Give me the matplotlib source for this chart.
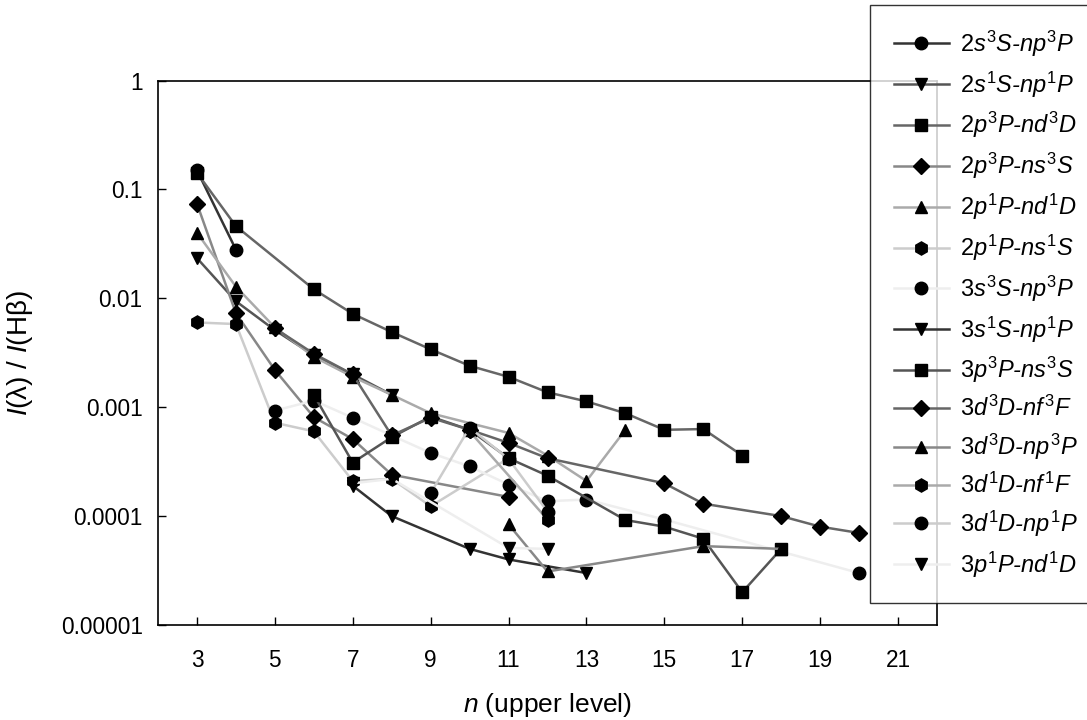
import matplotlib
matplotlib.use('Agg')
import matplotlib.pyplot as plt
from matplotlib.ticker import FixedLocator, NullLocator

plt.rcParams['font.family'] = ['Liberation Sans', 'DejaVu Sans']
plt.rcParams['mathtext.fontset'] = 'custom'
plt.rcParams['mathtext.rm'] = 'Liberation Sans'
plt.rcParams['mathtext.it'] = 'Liberation Sans:italic'
plt.rcParams['mathtext.sf'] = 'Liberation Sans'

# series labels (legend order)
labels = [r'$\mathit{2s^{3}S}$-$\mathit{np^{3}P}$',
          r'$\mathit{2s^{1}S}$-$\mathit{np^{1}P}$',
          r'$\mathit{2p^{3}P}$-$\mathit{nd^{3}D}$',
          r'$\mathit{2p^{3}P}$-$\mathit{ns^{3}S}$',
          r'$\mathit{2p^{1}P}$-$\mathit{nd^{1}D}$',
          r'$\mathit{2p^{1}P}$-$\mathit{ns^{1}S}$',
          r'$\mathit{3s^{3}S}$-$\mathit{np^{3}P}$',
          r'$\mathit{3s^{1}S}$-$\mathit{np^{1}P}$',
          r'$\mathit{3p^{3}P}$-$\mathit{ns^{3}S}$',
          r'$\mathit{3d^{3}D}$-$\mathit{nf^{3}F}$',
          r'$\mathit{3d^{3}D}$-$\mathit{np^{3}P}$',
          r'$\mathit{3d^{1}D}$-$\mathit{nf^{1}F}$',
          r'$\mathit{3d^{1}D}$-$\mathit{np^{1}P}$',
          r'$\mathit{3p^{1}P}$-$\mathit{nd^{1}D}$']

# upper level n and I(lambda)/I(Hbeta)
n_2s3S = [3, 4]
i_2s3S = [0.15, 0.028]
n_2s1S = [3, 4, 5, 6, 7, 8]
i_2s1S = [0.0234, 0.0094, 0.0051, 0.0030, 0.0020, 0.0013]
n_2p3P_d = [3, 4, 6, 7, 8, 9, 10, 11, 12, 13, 14, 15, 16, 17]
i_2p3P_d = [0.142, 0.046, 0.0121, 0.0072, 0.0049, 0.0034, 0.0024, 0.0019,
            0.00137, 0.00113, 0.00088, 0.00062, 0.00063, 0.00036]
n_2p3P_s = [3, 4, 5, 6, 7, 8, 11]
i_2p3P_s = [0.074, 0.0073, 0.0022, 0.00081, 0.00051, 0.00024, 0.00015]
n_2p1P_d = [3, 4, 5, 6, 7, 8, 9, 11, 12, 13, 14]
i_2p1P_d = [0.040, 0.0128, 0.0054, 0.0029, 0.0019, 0.0013, 0.00088,
            0.00058, 0.00036, 0.00021, 0.00062]
n_2p1P_s = [3, 4, 5, 6, 7, 8, 9, 11]
i_2p1P_s = [0.006, 0.0058, 0.00072, 0.0006, 0.00021, 0.00022, 0.000123, 0.00034]
n_3s3S = [5, 6, 7, 8, 9, 10, 11, 12, 13, 15, 20]
i_3s3S = [0.00093, 0.00115, 0.0008, 0.00055, 0.00038, 0.000286, 0.000195,
          0.000137, 0.000142, 0.000093, 0.00003]
n_3s1S = [7, 8, 10, 11, 13]
i_3s1S = [0.00019, 0.0001, 0.00005, 0.00004, 0.00003]
n_3p3P = [6, 7, 8, 9, 10, 11, 12, 14, 15, 16, 17, 18]
i_3p3P = [0.0013, 0.00031, 0.00053, 0.00082, 0.00062, 0.00034, 0.000235,
          0.000092, 0.00008, 0.000062, 0.00002, 0.00005]
n_3d3D_f = [5, 6, 7, 8, 9, 10, 11, 12, 15, 16, 18, 19, 20]
i_3d3D_f = [0.0053, 0.0031, 0.002, 0.00055, 0.0008, 0.00062, 0.00047,
            0.00034, 0.0002, 0.00013, 0.0001, 0.00008, 0.00007]
n_3d3D_p = [11, 12, 16, 18]
i_3d3D_p = [0.000084, 0.000031, 0.000053, 0.00005]
n_3d1D_f = [10, 12]
i_3d1D_f = [0.0006, 0.000093]
n_3d1D_p = [9, 10, 11, 12]
i_3d1D_p = [0.000163, 0.00065, 0.000335, 0.00011]
n_3p1P = [7, 8, 11, 12]
i_3p1P = [0.0002, 0.00022, 0.000051, 0.00005]

ns = [n_2s3S, n_2s1S, n_2p3P_d, n_2p3P_s, n_2p1P_d, n_2p1P_s, n_3s3S,
      n_3s1S, n_3p3P, n_3d3D_f, n_3d3D_p, n_3d1D_f, n_3d1D_p, n_3p1P]
vals = [i_2s3S, i_2s1S, i_2p3P_d, i_2p3P_s, i_2p1P_d, i_2p1P_s, i_3s3S,
        i_3s1S, i_3p3P, i_3d3D_f, i_3d3D_p, i_3d1D_f, i_3d1D_p, i_3p1P]

greys = ['#333333', '#555555', '#666666', '#888888', '#aaaaaa', '#cccccc', '#eeeeee']
colors = greys + greys
markers = ['o', 'v', 's', 'D', '^', 'h', 'o', 'v', 's', 'D', '^', 'h', 'o', 'v']
msizes = [9, 9, 8.5, 8, 9, 9.5, 9, 9, 8.5, 8, 9, 9.5, 9, 9]

ytick_vals = [1, 0.1, 0.01, 0.001, 0.0001, 0.00001]
ytick_labels = ['1', '0.1', '0.01', '0.001', '0.0001', '0.00001']
xtick_vals = [3, 5, 7, 9, 11, 13, 15, 17, 19, 21]

fig = plt.figure(figsize=(10.87, 7.2), dpi=100)
ax = fig.add_axes([158/1087, 95/720, 779/1087, 544.5/720])

handles = []
for k in range(len(labels)):
    h, = ax.plot(ns[k], vals[k], color=colors[k], lw=1.8, marker=markers[k],
                 ms=msizes[k], mfc='black', mec='black', label=labels[k])
    handles.append(h)

ax.set_yscale('log')
ax.set_ylim(1e-5, 1)
ax.set_xlim(2, 22)
ax.yaxis.set_major_locator(FixedLocator(ytick_vals))
ax.yaxis.set_minor_locator(NullLocator())
ax.set_yticklabels(ytick_labels)
ax.set_xticks(xtick_vals)
ax.tick_params(axis='both', direction='in', length=6, width=1, labelsize=16.3)
ax.tick_params(axis='y', pad=11)
ax.tick_params(axis='x', pad=17)
for sp in ax.spines.values():
    sp.set_linewidth(1.2)

ax.set_xlabel(r'$\mathit{n}$ (upper level)', fontsize=19, labelpad=14)
ax.set_ylabel(r'$\mathit{I}$($\mathrm{\lambda}$) / $\mathit{I}$(H$\mathrm{\beta}$)', fontsize=20)
ax.yaxis.set_label_coords(-0.158, 0.50)

leg = fig.legend(handles, labels, loc='upper left', bbox_to_anchor=(870/1087, 1 - 5/720),
                 frameon=True, fancybox=False, edgecolor='black',
                 handlelength=2.35, handletextpad=0.45, labelspacing=0.45,
                 borderpad=1.0, borderaxespad=0, prop={'style': 'italic', 'size': 17})
leg.get_frame().set_linewidth(1.0)

fig.savefig('out.png', dpi=100)
